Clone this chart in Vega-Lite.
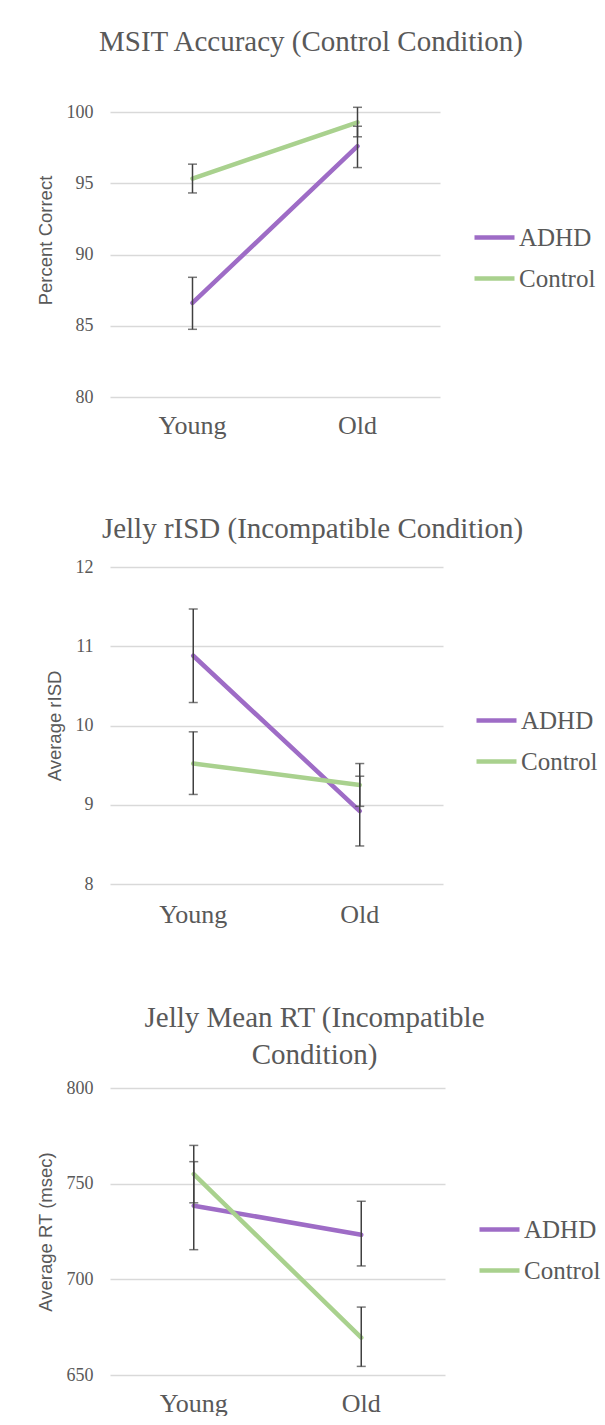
{
  "$schema": "https://vega.github.io/schema/vega-lite/v6.json",
  "padding": {"left": 36, "top": 28, "right": 0, "bottom": 0},
  "background": "white",
  "spacing": 77,
  "columns": 1,
  "align": "none",
  "resolve": {"scale": {"color": "independent", "y": "independent", "x": "independent"}, "legend": {"color": "independent"}},
  "datasets": {
    "msit": [
      {"age": "Young", "group": "ADHD", "mean": 86.6, "lo": 84.75, "hi": 88.4},
      {"age": "Old", "group": "ADHD", "mean": 97.6, "lo": 96.1, "hi": 99.0},
      {"age": "Young", "group": "Control", "mean": 95.33, "lo": 94.32, "hi": 96.34},
      {"age": "Old", "group": "Control", "mean": 99.28, "lo": 98.26, "hi": 100.33}
    ],
    "risd": [
      {"age": "Young", "group": "ADHD", "mean": 10.88, "lo": 10.29, "hi": 11.47},
      {"age": "Old", "group": "ADHD", "mean": 8.92, "lo": 8.48, "hi": 9.36},
      {"age": "Young", "group": "Control", "mean": 9.52, "lo": 9.13, "hi": 9.92},
      {"age": "Old", "group": "Control", "mean": 9.25, "lo": 8.98, "hi": 9.52}
    ],
    "rt": [
      {"age": "Young", "group": "ADHD", "mean": 738.5, "lo": 715.5, "hi": 761.5},
      {"age": "Old", "group": "ADHD", "mean": 723.3, "lo": 707, "hi": 740.8},
      {"age": "Young", "group": "Control", "mean": 755, "lo": 740, "hi": 770},
      {"age": "Old", "group": "Control", "mean": 669.5, "lo": 654.5, "hi": 685.5}
    ]
  },
  "config": {
    "view": {"stroke": null},
    "axis": {"grid": true, "gridColor": "#d9d9d9", "gridWidth": 1.5, "domain": false, "ticks": false, "labelColor": "#595959", "labelFont": "Liberation Serif", "titleColor": "#595959", "titleFont": "Liberation Sans", "titleFontWeight": "normal", "titleFontSize": 18.5},
    "axisX": {"grid": false, "labelFontSize": 26, "labelPadding": 15, "labelAngle": 0, "labelFont": "Liberation Serif"},
    "axisY": {"labelFontSize": 18, "labelPadding": 17, "titlePadding": 11, "labelFont": "Liberation Serif"},
    "title": {"font": "Liberation Serif", "fontSize": 29, "fontWeight": "normal", "color": "#595959", "anchor": "middle", "offset": 46},
    "legend": {"orient": "none", "title": null, "labelFont": "Liberation Serif", "labelFontSize": 25, "labelColor": "#595959", "symbolType": "stroke", "symbolStrokeWidth": 4.5, "symbolSize": 1600, "labelOffset": 2, "rowPadding": 5}
  },
  "concat": [
    {
      "width": 330, "height": 285,
      "title": {"text": "MSIT Accuracy (Control Condition)", "dx": 36},
      "data": {"name": "msit"},
      "layer": [
        {
          "mark": {"type": "line", "strokeWidth": 4.5, "strokeCap": "round"},
          "encoding": {
            "x": {"field": "age", "type": "nominal", "sort": ["Young", "Old"], "scale": {"paddingInner": 0, "paddingOuter": 0}, "axis": {"title": null}},
            "y": {"field": "mean", "type": "quantitative", "scale": {"domain": [80, 100], "nice": false, "zero": false}, "axis": {"title": "Percent Correct", "titleY": 128, "values": [80, 85, 90, 95, 100], "format": "d", "labelFont": "Liberation Serif", "labelFontSize": 18}},
            "color": {"field": "group", "type": "nominal", "scale": {"domain": ["ADHD", "Control"], "range": ["#9e6cc6", "#a9d18e"]}, "legend": {"legendX": 362, "legendY": 103}}
          }
        },
        {
          "mark": {"type": "rule", "color": "#404040", "strokeWidth": 1.5},
          "encoding": {
            "x": {"field": "age", "type": "nominal", "sort": ["Young", "Old"]},
            "y": {"field": "lo", "type": "quantitative"},
            "y2": {"field": "hi"}
          }
        },
        {
          "mark": {"type": "tick", "color": "#404040", "thickness": 1.5, "size": 9},
          "encoding": {
            "x": {"field": "age", "type": "nominal", "sort": ["Young", "Old"]},
            "y": {"field": "lo", "type": "quantitative"}
          }
        },
        {
          "mark": {"type": "tick", "color": "#404040", "thickness": 1.5, "size": 9},
          "encoding": {
            "x": {"field": "age", "type": "nominal", "sort": ["Young", "Old"]},
            "y": {"field": "hi", "type": "quantitative"}
          }
        }
      ]
    },
    {
      "width": 333, "height": 317,
      "title": {"text": "Jelly rISD (Incompatible Condition)", "dx": 36, "offset": 14},
      "data": {"name": "risd"},
      "layer": [
        {
          "mark": {"type": "line", "strokeWidth": 4.5, "strokeCap": "round"},
          "encoding": {
            "x": {"field": "age", "type": "nominal", "sort": ["Young", "Old"], "scale": {"paddingInner": 0, "paddingOuter": 0}, "axis": {"title": null, "labelPadding": 17}},
            "y": {"field": "mean", "type": "quantitative", "scale": {"domain": [8, 12], "nice": false, "zero": false}, "axis": {"title": "Average rISD", "values": [8, 9, 10, 11, 12], "format": "d", "labelFont": "Liberation Serif", "labelFontSize": 18}},
            "color": {"field": "group", "type": "nominal", "scale": {"domain": ["ADHD", "Control"], "range": ["#9e6cc6", "#a9d18e"]}, "legend": {"legendX": 364, "legendY": 131}}
          }
        },
        {
          "mark": {"type": "rule", "color": "#404040", "strokeWidth": 1.5},
          "encoding": {
            "x": {"field": "age", "type": "nominal", "sort": ["Young", "Old"]},
            "y": {"field": "lo", "type": "quantitative"},
            "y2": {"field": "hi"}
          }
        },
        {
          "mark": {"type": "tick", "color": "#404040", "thickness": 1.5, "size": 9},
          "encoding": {
            "x": {"field": "age", "type": "nominal", "sort": ["Young", "Old"]},
            "y": {"field": "lo", "type": "quantitative"}
          }
        },
        {
          "mark": {"type": "tick", "color": "#404040", "thickness": 1.5, "size": 9},
          "encoding": {
            "x": {"field": "age", "type": "nominal", "sort": ["Young", "Old"]},
            "y": {"field": "hi", "type": "quantitative"}
          }
        }
      ]
    },
    {
      "width": 335, "height": 287,
      "title": {"text": ["Jelly Mean RT (Incompatible", "Condition)"], "dx": 37, "lineHeight": 37, "offset": 9},
      "data": {"name": "rt"},
      "layer": [
        {
          "mark": {"type": "line", "strokeWidth": 4.5, "strokeCap": "round"},
          "encoding": {
            "x": {"field": "age", "type": "nominal", "sort": ["Young", "Old"], "scale": {"paddingInner": 0, "paddingOuter": 0}, "axis": {"title": null}},
            "y": {"field": "mean", "type": "quantitative", "scale": {"domain": [650, 800], "nice": false, "zero": false}, "axis": {"title": "Average RT (msec)", "values": [650, 700, 750, 800], "format": "d", "labelFont": "Liberation Serif", "labelFontSize": 18}},
            "color": {"field": "group", "type": "nominal", "scale": {"domain": ["ADHD", "Control"], "range": ["#9e6cc6", "#a9d18e"]}, "legend": {"legendX": 367, "legendY": 119}}
          }
        },
        {
          "mark": {"type": "rule", "color": "#404040", "strokeWidth": 1.5},
          "encoding": {
            "x": {"field": "age", "type": "nominal", "sort": ["Young", "Old"]},
            "y": {"field": "lo", "type": "quantitative"},
            "y2": {"field": "hi"}
          }
        },
        {
          "mark": {"type": "tick", "color": "#404040", "thickness": 1.5, "size": 9},
          "encoding": {
            "x": {"field": "age", "type": "nominal", "sort": ["Young", "Old"]},
            "y": {"field": "lo", "type": "quantitative"}
          }
        },
        {
          "mark": {"type": "tick", "color": "#404040", "thickness": 1.5, "size": 9},
          "encoding": {
            "x": {"field": "age", "type": "nominal", "sort": ["Young", "Old"]},
            "y": {"field": "hi", "type": "quantitative"}
          }
        }
      ]
    }
  ]
}
